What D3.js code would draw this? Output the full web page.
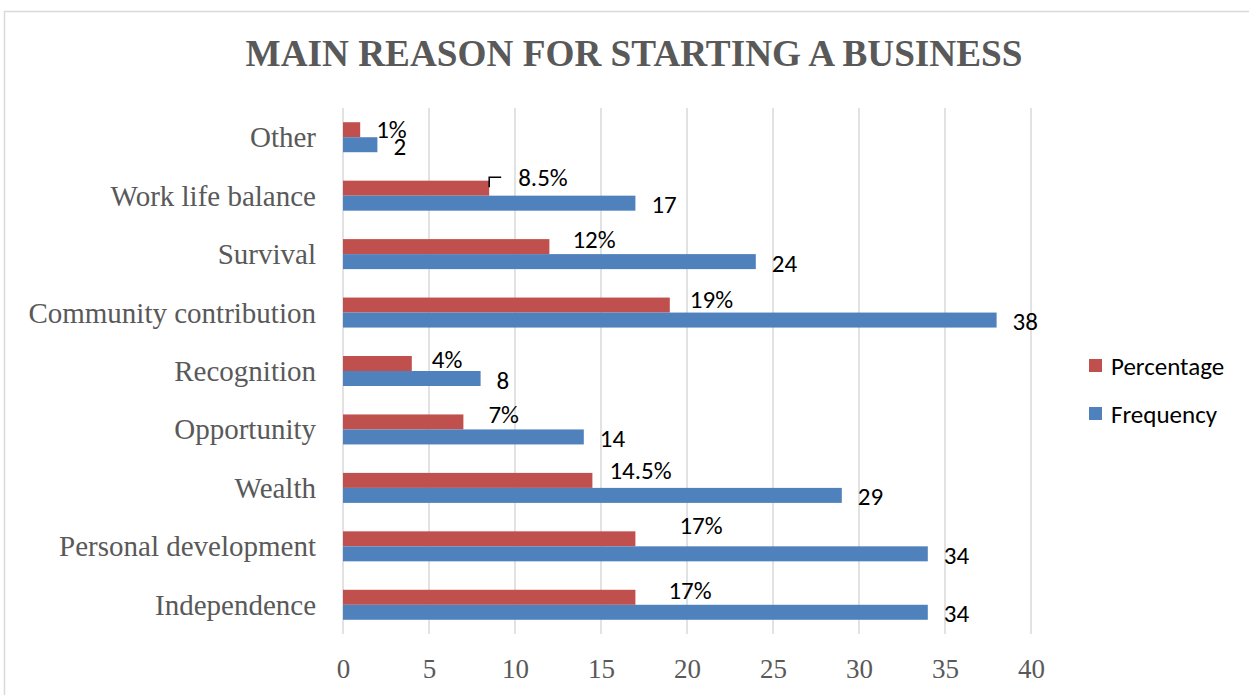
<!DOCTYPE html>
<html>
<head>
<meta charset="utf-8">
<script src="https://cdn.jsdelivr.net/npm/d3@7"></script>
<style>
  html, body { margin: 0; padding: 0; background: #fff; }
  svg { display: block; }
</style>
</head>
<body>
<svg id="chart" width="1249" height="695"></svg>
<script>
// Survey: main reason for starting a business
const categories = [
  "Other", "Work life balance", "Survival", "Community contribution",
  "Recognition", "Opportunity", "Wealth", "Personal development", "Independence"
];
const percentage = [1, 8.5, 12, 19, 4, 7, 14.5, 17, 17];
const frequency  = [2, 17, 24, 38, 8, 14, 29, 34, 34];
const xTicks = [0, 5, 10, 15, 20, 25, 30, 35, 40];
const seriesNames = ["Percentage", "Frequency"];

// Hand-placed offsets of the percentage labels (dx from bar end, dy from bar centre)
const pctLabelNudge = [
  [16, 8.5], [29, -2], [23, 1.5], [20, 2.5], [20, 4.5],
  [25, 1.5], [17, -1.5], [44, -4.5], [33, 1.5]
];

const colors = { Percentage: "#C0504D", Frequency: "#4F81BD" };
const serif = "'Liberation Serif', 'Times New Roman', serif";
const sans = "Carlito, Calibri, Lato, 'Noto Sans', sans-serif";

const svg = d3.select("#chart");
const W = 1249, H = 695;
const plot = { left: 343, right: 1031, top: 108, bottom: 634 };

// Outer chart frame
svg.append("path")
  .attr("d", `M4.5,${H + 2} V11.5 H${W + 2}`)
  .attr("fill", "none")
  .attr("stroke", "#D9D9D9")
  .attr("stroke-width", 1.5);

// Title
svg.append("text")
  .attr("x", 634).attr("y", 66)
  .attr("text-anchor", "middle")
  .attr("font-family", serif)
  .attr("font-weight", "bold")
  .attr("font-size", 38)
  .attr("fill", "#595959")
  .attr("textLength", 777)
  .attr("lengthAdjust", "spacingAndGlyphs")
  .text("MAIN REASON FOR STARTING A BUSINESS");

const x = d3.scaleLinear().domain([0, 40]).range([plot.left, plot.right]);
const pad = 1 - 30 / ((plot.bottom - plot.top) / categories.length);
const y = d3.scaleBand().domain(categories).range([plot.top, plot.bottom])
  .paddingInner(pad).paddingOuter(pad / 2);
const sub = d3.scaleBand().domain(seriesNames).range([0, y.bandwidth()]);

// Vertical gridlines
svg.append("g")
  .selectAll("line")
  .data(xTicks)
  .join("line")
  .attr("x1", d => x(d)).attr("x2", d => x(d))
  .attr("y1", plot.top).attr("y2", plot.bottom)
  .attr("stroke", "#D9D9D9")
  .attr("stroke-width", 1.5);

// Bottom axis (labels only)
const xAxis = svg.append("g")
  .attr("transform", `translate(0,${plot.bottom})`)
  .call(d3.axisBottom(x).tickValues(xTicks).tickSize(0).tickPadding(0));
xAxis.select(".domain").remove();
xAxis.selectAll("text")
  .attr("dy", null)
  .attr("y", 44)
  .attr("font-family", serif)
  .attr("font-size", 27)
  .attr("fill", "#595959");

// Left axis (category labels only)
const yAxis = svg.append("g")
  .attr("transform", `translate(${plot.left},0)`)
  .call(d3.axisLeft(y).tickSize(0).tickPadding(27));
yAxis.select(".domain").remove();
yAxis.selectAll("text")
  .attr("dy", null)
  .attr("dominant-baseline", "central")
  .attr("font-family", serif)
  .attr("font-size", 29)
  .attr("fill", "#595959");

const rows = categories.map((c, i) => ({
  cat: c, pct: percentage[i], freq: frequency[i], nudge: pctLabelNudge[i]
}));

const bars = svg.append("g");
// Percentage bars
bars.selectAll("rect.pct")
  .data(rows)
  .join("rect")
  .attr("class", "pct")
  .attr("x", x(0))
  .attr("y", d => y(d.cat) + sub("Percentage"))
  .attr("width", d => x(d.pct) - x(0))
  .attr("height", sub.bandwidth())
  .attr("fill", colors.Percentage);
// Frequency bars
bars.selectAll("rect.freq")
  .data(rows)
  .join("rect")
  .attr("class", "freq")
  .attr("x", x(0))
  .attr("y", d => y(d.cat) + sub("Frequency"))
  .attr("width", d => x(d.freq) - x(0))
  .attr("height", sub.bandwidth())
  .attr("fill", colors.Frequency);

// Value labels
const labels = svg.append("g")
  .attr("font-family", sans)
  .attr("font-size", 25)
  .attr("fill", "#000");

labels.selectAll("text.pct")
  .data(rows)
  .join("text")
  .attr("class", "pct")
  .attr("x", d => x(d.pct) + d.nudge[0])
  .attr("y", d => y(d.cat) + sub("Percentage") + sub.bandwidth() / 2 + d.nudge[1])
  .text(d => d.pct + "%");

labels.selectAll("text.freq")
  .data(rows)
  .join("text")
  .attr("class", "freq")
  .attr("x", d => x(d.freq) + 16)
  .attr("y", d => y(d.cat) + sub("Frequency") + sub.bandwidth() / 2 + 10)
  .text(d => d.freq);

// Leader line for the displaced "Work life balance" percentage label
const wl = rows[1];
const wlx = x(wl.pct);
const wly = y(wl.cat) + sub("Percentage") + sub.bandwidth() / 2;
svg.append("path")
  .attr("d", `M${wlx},${wly - 1} V${wly - 11} H${wlx + 12}`)
  .attr("fill", "none")
  .attr("stroke", "#000")
  .attr("stroke-width", 1.5);

// Legend
const legend = svg.append("g")
  .attr("font-family", sans)
  .attr("font-size", 25);
const legendY = { Percentage: 366, Frequency: 414 };
seriesNames.forEach(name => {
  legend.append("rect")
    .attr("x", 1089).attr("y", legendY[name] - 7)
    .attr("width", 13).attr("height", 13)
    .attr("fill", colors[name]);
  legend.append("text")
    .attr("x", 1111).attr("y", legendY[name] + 9)
    .attr("fill", "#000")
    .text(name);
});
</script>
</body>
</html>
